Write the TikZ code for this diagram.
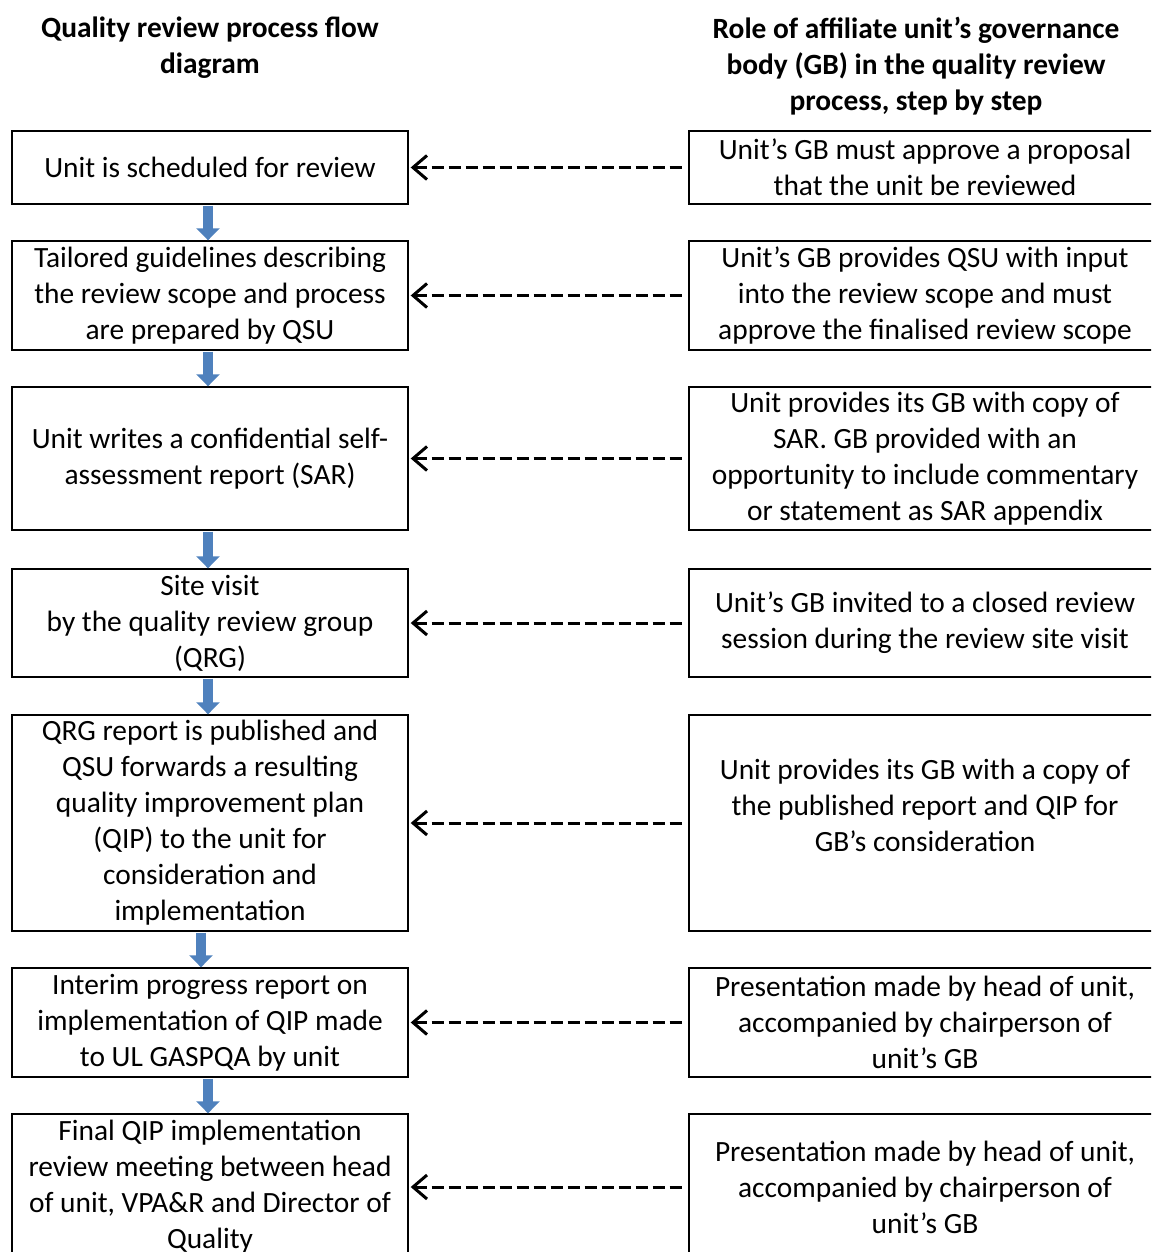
\documentclass[tikz,border=0pt]{standalone}
\usepackage{fontspec}
\setmainfont{Carlito}
\usepackage{xcolor}
\usetikzlibrary{arrows.meta}
\definecolor{qblue}{HTML}{4F81BD}
\newcommand{\droptext}{\endgraf\vskip-6pt}

\begin{document}
\begin{tikzpicture}[x=1pt,y=-1pt,
	flowbox/.style={draw, line width=1.4pt, minimum width=396pt, text width=380pt, align=flush center, inner sep=0pt, font=\fontsize{29.4}{36}\selectfont, execute at end node=\droptext},
	gbbox/.style={flowbox, minimum width=472pt, text width=456pt},
	heading/.style={align=center, font=\fontsize{29.4}{36}\selectfont\bfseries},
	down/.style={qblue, line width=10pt, shorten <=1pt, -{Triangle[width=23pt,length=12pt]}},
	gbarrow/.style={line width=3pt, dash pattern=on 12pt off 5pt, shorten <=2pt, shorten >=5pt, {Straight Barb[length=14pt,width=24pt,line width=3pt]}-}]
	
	\useasboundingbox (0,0) rectangle (1151,1252);
	\clip (0,0) rectangle (1151,1252);
	
	\node[heading] (h1) at (210,48) {Quality review process flow\\diagram};
	\node[heading] (h2) at (916,66) {Role of affiliate unit’s governance\\body (GB) in the quality review\\process, step by step};
	
	% process flow
	\node[flowbox, minimum height=73] (s1) at (210,167.5) {Unit is scheduled for review};
	\node[flowbox, minimum height=109] (s2) at (210,295.5) {Tailored guidelines describing\\the review scope and process\\are prepared by QSU};
	\node[flowbox, minimum height=143] (s3) at (210,458.5) {Unit writes a confidential self-\\assessment report (SAR)};
	\node[flowbox, minimum height=108] (s4) at (210,623) {Site visit\\by the quality review group\\(QRG)};
	\node[flowbox, minimum height=216] (s5) at (210,823) {QRG report is published and\\QSU forwards a resulting\\quality improvement plan\\(QIP) to the unit for\\consideration and\\implementation};
	\node[flowbox, minimum height=109] (s6) at (210,1022.5) {Interim progress report on\\implementation of QIP made\\to UL GASPQA by unit};
	\node[flowbox, minimum height=146] (s7) at (210,1187) {Final QIP implementation\\review meeting between head\\of unit, VPA\&R and Director of\\Quality};
	
	% role of the GB
	\node[gbbox, minimum height=73] (r1) at (925,167.5) {Unit’s GB must approve a proposal\\that the unit be reviewed};
	\node[gbbox, minimum height=109] (r2) at (925,295.5) {Unit’s GB provides QSU with input\\into the review scope and must\\approve the finalised review scope};
	\node[gbbox, minimum height=143] (r3) at (925,458.5) {Unit provides its GB with copy of\\SAR. GB provided with an\\opportunity to include commentary\\or statement as SAR appendix};
	\node[gbbox, minimum height=108] (r4) at (925,623) {Unit’s GB invited to a closed review\\session during the review site visit};
	\node[gbbox, minimum height=216] (r5) at (925,823) {Unit provides its GB with a copy of\\the published report and QIP for\\GB’s consideration\\\mbox{}};
	\node[gbbox, minimum height=109] (r6) at (925,1022.5) {Presentation made by head of unit,\\accompanied by chairperson of\\unit’s GB};
	\node[gbbox, minimum height=146] (r7) at (925,1187) {Presentation made by head of unit,\\accompanied by chairperson of\\unit’s GB};
	
	\foreach \a/\b in {s1/s2,s2/s3,s3/s4,s4/s5,s6/s7}
		\draw[down] ([xshift=-2]\a.south) -- ([xshift=-2]\b.north);
	\draw[down] ([xshift=-9]s5.south) -- ([xshift=-9]s6.north);
	
	\foreach \i in {1,...,7}
		\draw[gbarrow] (s\i.east) -- (r\i.west);
\end{tikzpicture}
\end{document}
